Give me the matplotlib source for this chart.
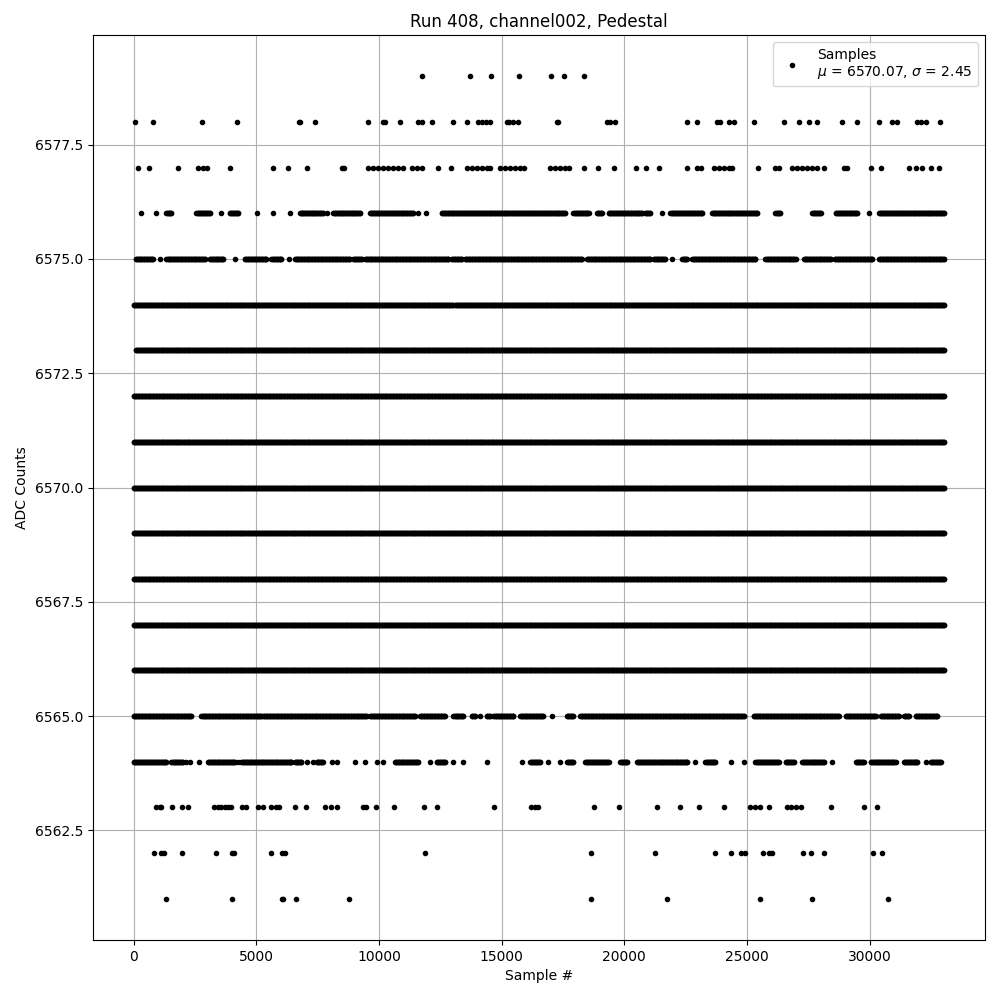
import numpy as np
import matplotlib
matplotlib.use("Agg")
import matplotlib.pyplot as plt

# ---------------- data ----------------
# Sparse ADC levels: sample numbers where a point appears
samples_6579 = [11767, 13727, 14571, 15714, 17020, 17551, 18339]
samples_6578 = [53, 788, 2788, 4216, 6735, 6800, 7400, 9564, 10176, 10257, 10870,
                11604, 11767, 12176, 13033, 13580, 14053, 14192, 14355, 14531,
                15212, 15318, 15481, 15686, 17253, 17300, 19294, 19429, 19633,
                22559, 22967, 23783, 23918, 24257, 24461, 25277, 26502, 27114,
                27522, 27865, 28885, 29498, 30379, 30926, 31131, 31947, 32082,
                32286, 32869]
samples_6577 = [176, 624, 1808, 2624, 2829, 2992, 3918, 5686, 6298, 7073, 8478,
                8571, 9563, 9767, 9971, 10176, 10380, 10584, 10788, 10992, 11335,
                11539, 11743, 12420, 12939, 13580, 13784, 13988, 14192, 14396,
                14531, 14939, 15143, 15347, 15551, 15755, 15918, 16980, 17184,
                17388, 17592, 17767, 18339, 18910, 19563, 20461, 20869, 21416,
                22559, 22967, 23130, 23645, 23849, 24053, 24257, 24396, 25441,
                26163, 26298, 26845, 27049, 27253, 27457, 27661, 27865, 28135,
                28951, 29090, 30041, 30449, 31604, 31878, 32151, 32490, 32829]
samples_6563 = [927, 1061, 1131, 1563, 1971, 2216, 3265, 3441, 3580, 3714, 3849,
                3988, 4437, 4571, 5073, 5277, 5620, 5824, 5931, 6600, 7049, 7784,
                8053, 8298, 9359, 9457, 9890, 10624, 11849, 12355, 14706, 16192,
                16367, 16502, 18747, 19767, 21335, 22286, 23033, 24053, 25143,
                25347, 25551, 25890, 26641, 26776, 26980, 27184, 28408, 29767,
                30314]
samples_6562 = [829, 1131, 1237, 1971, 3375, 4029, 4094, 5620, 6053, 6192, 11877,
                18624, 21237, 23686, 24339, 24776, 24939, 25661, 25890, 26029,
                27277, 27620, 28135, 30134, 30502]
samples_6561 = [1331, 4024, 6057, 6110, 6629, 8796, 18661, 21727, 25535, 27657,
                30763]

# Denser ADC levels: runs of samples (start, end) covered by points
runs_6576 = [(314, 314), (927, 927), (1335, 1539), (2559, 3102), (3580, 3580),
             (3918, 4257), (5033, 5033), (5686, 5686), (6367, 6367), (6775, 7727),
             (7865, 7865), (8135, 9224), (9633, 11400), (11604, 11604),
             (11918, 11918), (12559, 17592), (17931, 18543), (18886, 19090),
             (19359, 20722), (20857, 21061), (21539, 21539), (21878, 23171),
             (23579, 25416), (26163, 26367), (27661, 28000), (28612, 29498),
             (29971, 29971), (30379, 33030)]
runs_6575 = [(82, 788), (1090, 1090), (1335, 2898), (3102, 3645), (4122, 4122),
             (4531, 5416), (5620, 6028), (6326, 6326), (6571, 8816), (8951, 9294),
             (9437, 12829), (12967, 13375), (13509, 18273), (18477, 21061),
             (21196, 21673), (21947, 21947), (22355, 22559), (22763, 25347),
             (25755, 26980), (27318, 28408), (28571, 30110), (30379, 33030)]
runs_6574 = [(0, 13000), (13100, 33050)]
runs_6573 = [(90, 33050)]
runs_6572 = [(0, 33050)]
runs_6571 = [(0, 33050)]
runs_6570 = [(0, 33050)]
runs_6569 = [(0, 33050)]
runs_6568 = [(0, 33050)]
runs_6567 = [(0, 33050)]
runs_6566 = [(0, 33050)]
runs_6565 = [(0, 2355), (2763, 5212), (5277, 9498), (9633, 11470), (11674, 12694),
             (13033, 13441), (13784, 13918), (14122, 14122), (14396, 14531),
             (14665, 15482), (15755, 16706), (17049, 17049), (17661, 17931),
             (18204, 24869), (25277, 28746), (29020, 30245), (30449, 31196),
             (31400, 31604), (31878, 32763)]
runs_6564 = [(0, 1335), (1539, 2012), (2151, 2151), (2314, 2314), (2665, 2665),
             (3033, 4122), (4257, 4257), (4396, 6437), (6571, 6845), (7073, 7073),
             (7318, 7318), (7457, 7727), (8069, 8069), (8273, 8273), (9020, 9020),
             (9429, 9429), (9906, 9906), (10176, 10176), (10653, 11604),
             (12082, 12082), (12355, 12694), (13033, 13033), (13441, 13441),
             (14420, 14420), (15824, 15824), (16163, 16571), (16910, 16910),
             (17388, 17388), (17661, 17931), (18408, 19359), (19837, 20110),
             (20518, 22559), (22898, 22898), (23306, 23714), (24359, 24359),
             (24869, 24869), (25347, 26298), (26573, 26910), (27253, 28135),
             (28477, 28477), (29437, 29767), (30041, 31061), (31400, 31947),
             (32286, 32286), (32490, 32898)]

title = "Run 408, channel002, Pedestal"
legend_label = "Samples\n$\\mu$ = 6570.07, $\\sigma$ = 2.45"

# ---------------- assemble points ----------------
sparse = {6579: samples_6579, 6578: samples_6578, 6577: samples_6577,
          6563: samples_6563, 6562: samples_6562, 6561: samples_6561}
runs = {6576: runs_6576, 6575: runs_6575, 6574: runs_6574, 6573: runs_6573,
        6572: runs_6572, 6571: runs_6571, 6570: runs_6570, 6569: runs_6569,
        6568: runs_6568, 6567: runs_6567, 6566: runs_6566, 6565: runs_6565,
        6564: runs_6564}

STEP = 30  # drawing density inside a covered run
xs, ys = [], []
for level, pts in sparse.items():
    xs.extend(pts)
    ys.extend([level] * len(pts))
for level, segs in runs.items():
    for a, b in segs:
        seg = np.arange(a, b + 1, STEP) if b > a else np.array([a])
        if b > a and seg[-1] != b:
            seg = np.append(seg, b)
        xs.extend(seg.tolist())
        ys.extend([level] * len(seg))

# ---------------- plot ----------------
fig = plt.figure(figsize=(10, 10), dpi=100)
ax = fig.add_subplot(111)
fig.subplots_adjust(left=0.093, right=0.985, top=0.965, bottom=0.06)
ax.plot(xs, ys, 'k.', label=legend_label)
ax.set_title(title)
ax.set_xlabel("Sample #")
ax.set_ylabel("ADC Counts")
ax.grid(True)
ax.legend(loc="upper right")
fig.savefig("out.png", dpi=100)
